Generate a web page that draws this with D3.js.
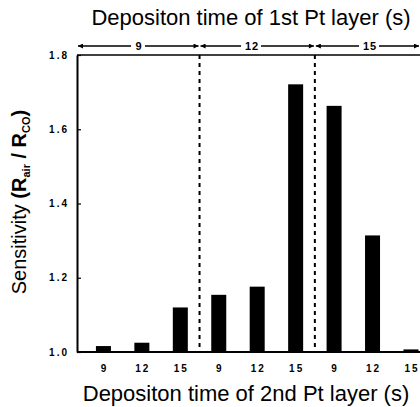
<!DOCTYPE html>
<html>
<head>
<meta charset="utf-8">
<script src="https://cdn.jsdelivr.net/npm/d3@7"></script>
<style>
  body { margin: 0; background: #fff; }
  svg { display: block; font-family: "Liberation Sans", Arial, sans-serif; }
</style>
</head>
<body>
<div id="chart"></div>
<script>
// data
var firstLayer = ["9", "12", "15"];
var secondLayer = ["9", "12", "15", "9", "12", "15", "9", "12", "15"];
var sensitivity = [1.016, 1.025, 1.12, 1.154, 1.176, 1.721, 1.663, 1.314, 1.007];
var yTicks = [1.0, 1.2, 1.4, 1.6, 1.8];

var width = 420, height = 407;
var axisX = 77;

var svg = d3.select("#chart").append("svg")
  .attr("width", width)
  .attr("height", height);

var x = d3.scaleBand()
  .domain(d3.range(secondLayer.length))
  .range([84.2, 430.2])
  .paddingInner(0)
  .paddingOuter(0);

var y = d3.scaleLinear()
  .domain([1.0, 1.8])
  .range([352, 55]);

var barW = 15;

// bars
svg.append("g").attr("class", "bars")
  .selectAll("rect")
  .data(sensitivity)
  .enter().append("rect")
  .attr("x", function(d, i) { return x(i) + x.bandwidth() / 2 - barW / 2; })
  .attr("y", function(d) { return y(d); })
  .attr("width", barW)
  .attr("height", function(d) { return y(1.0) - y(d); })
  .attr("fill", "#000");

// dotted separators between first-layer groups
var groupEdges = [x(3), x(6)];
svg.append("g").selectAll("line")
  .data(groupEdges)
  .enter().append("line")
  .attr("x1", function(d) { return d; })
  .attr("x2", function(d) { return d; })
  .attr("y1", y(1.8))
  .attr("y2", y(1.0))
  .attr("stroke", "#000")
  .attr("stroke-width", 2)
  .attr("stroke-dasharray", "4,4");

// frame: top and bottom lines
svg.append("line")
  .attr("x1", axisX).attr("x2", width)
  .attr("y1", y(1.8)).attr("y2", y(1.8))
  .attr("stroke", "#000").attr("stroke-width", 1.5);
svg.append("line")
  .attr("x1", axisX).attr("x2", width)
  .attr("y1", y(1.0)).attr("y2", y(1.0))
  .attr("stroke", "#000").attr("stroke-width", 2);

// y axis
var yAxis = d3.axisLeft(y)
  .tickValues(yTicks)
  .tickFormat(d3.format(".1f"))
  .tickSizeInner(-4)
  .tickSizeOuter(0)
  .tickPadding(8);

var gy = svg.append("g")
  .attr("transform", "translate(" + axisX + ",0)")
  .call(yAxis);
gy.select(".domain").attr("stroke-width", 2);
gy.selectAll(".tick line").attr("stroke-width", 1.2);
gy.selectAll(".tick text")
  .attr("font-size", 10)
  .attr("font-weight", "bold")
  .attr("letter-spacing", "2px")
  .attr("font-family", "Liberation Sans, Arial, sans-serif");

// x tick labels (2nd layer)
svg.append("g").selectAll("text")
  .data(secondLayer)
  .enter().append("text")
  .attr("x", function(d, i) { return x(i) + x.bandwidth() / 2 + 1; })
  .attr("y", 372)
  .attr("text-anchor", "middle")
  .attr("font-size", 10)
  .attr("font-weight", "bold")
  .attr("letter-spacing", "2px")
  .text(function(d) { return d; });

// arrows for 1st layer groups
var defs = svg.append("defs");
defs.append("marker")
  .attr("id", "arr")
  .attr("viewBox", "0 -5 10 10")
  .attr("refX", 10)
  .attr("refY", 0)
  .attr("markerWidth", 8)
  .attr("markerHeight", 5)
  .attr("markerUnits", "userSpaceOnUse")
  .attr("orient", "auto")
  .append("path")
  .attr("d", "M0,-5L10,0L0,5Z")
  .attr("fill", "#000");

var groupBounds = [axisX, x(3), x(6), width];
var labelX = [138, 251, 369];
var arrowY = 46;
firstLayer.forEach(function(label, i) {
  var x0 = groupBounds[i] + 1, x1 = groupBounds[i + 1] - 1;
  var cx = labelX[i];
  var half = label.length > 1 ? 10 : 7;
  svg.append("line")
    .attr("x1", cx - half).attr("x2", x0)
    .attr("y1", arrowY).attr("y2", arrowY)
    .attr("stroke", "#000").attr("stroke-width", 1.3)
    .attr("marker-end", "url(#arr)");
  svg.append("line")
    .attr("x1", cx + half).attr("x2", x1)
    .attr("y1", arrowY).attr("y2", arrowY)
    .attr("stroke", "#000").attr("stroke-width", 1.3)
    .attr("marker-end", "url(#arr)");
  svg.append("text")
    .attr("x", cx + 1)
    .attr("y", arrowY + 4)
    .attr("text-anchor", "middle")
    .attr("font-size", 11)
    .attr("font-weight", "bold")
    .attr("letter-spacing", "1px")
    .text(label);
});

// titles
svg.append("text")
  .attr("x", 251)
  .attr("y", 25)
  .attr("text-anchor", "middle")
  .attr("font-size", 22)
  .text("Depositon time of 1st Pt layer (s)");

svg.append("text")
  .attr("x", 246)
  .attr("y", 401)
  .attr("text-anchor", "middle")
  .attr("font-size", 22)
  .text("Depositon time of 2nd Pt layer (s)");

// y label
var yl = svg.append("text")
  .attr("transform", "translate(26,202) rotate(-90)")
  .attr("text-anchor", "middle")
  .attr("font-size", 20);
yl.append("tspan").text("Sensitivity  ");
yl.append("tspan").attr("font-weight", "bold").text("(R");
yl.append("tspan").attr("font-weight", "bold").attr("font-size", 11).attr("dy", 4).text("air");
yl.append("tspan").attr("font-weight", "bold").attr("dy", -4).text(" / R");
yl.append("tspan").attr("font-weight", "bold").attr("font-size", 11).attr("dy", 4).text("CO");
yl.append("tspan").attr("font-weight", "bold").attr("dy", -4).text(")");
</script>
</body>
</html>
